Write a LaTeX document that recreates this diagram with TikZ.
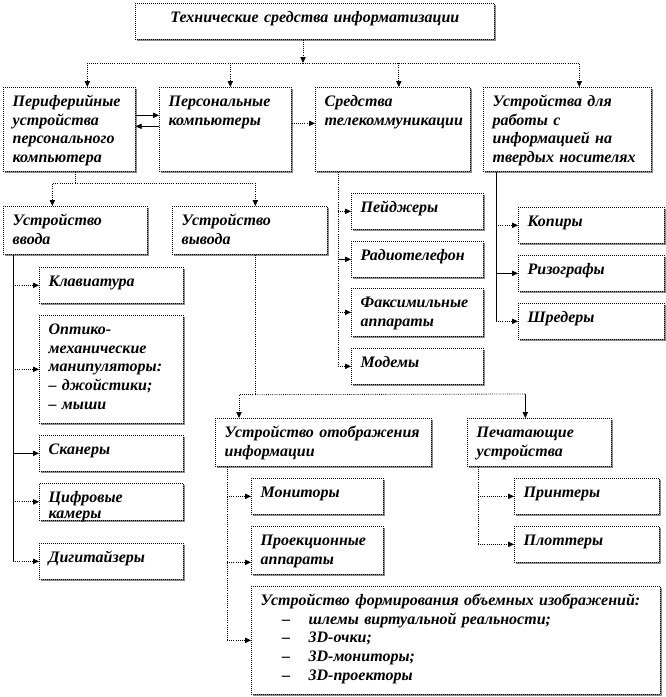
\documentclass[tikz,border=0pt]{standalone}
\usepackage{fontspec}
\setmainfont{Liberation Serif}
\usetikzlibrary{arrows.meta,positioning,calc,shadows}
\newcommand{\dashitem}[1]{\hspace*{16pt}\makebox[20pt][l]{--}#1}

\begin{document}
\begin{tikzpicture}[
      x=0.75pt,y=-0.75pt,
      box/.style={draw,line width=0.5pt,densely dotted,fill=white,anchor=north west,align=left,
        inner xsep=7pt,inner ysep=3pt,text height=11.25pt,
        font=\fontsize{12}{14}\selectfont\bfseries\itshape,
        drop shadow={shadow xshift=1pt,shadow yshift=-1pt,fill=black!45,opacity=1}},
      arrow/.style={-{Triangle[length=4.5pt,width=4pt]},line width=0.6pt},
      darrow/.style={arrow,densely dotted},
      dline/.style={line width=0.6pt,densely dotted}
    ]
      \useasboundingbox (0,0) rectangle (666,697);
      \node[box,align=center,text width=255.25pt,text depth=9.75pt] (title) at (135,3) {Технические средства информатизации};
      \node[box,text width=85pt,text depth=45.75pt] (periph) at (3,87) {Периферийные\\устройства\\персонального\\компьютера};
      \node[box,text width=85pt,text depth=45.75pt] (pc) at (159,87) {Персональные\\компьютеры};
      \node[box,text width=102.25pt,text depth=45.75pt] (tele) at (315,87) {Средства\\телекоммуникации};
      \node[box,text width=112pt,text depth=45.75pt] (hard) at (483,87) {Устройства для\\работы с\\информацией на\\твердых носителях};
      \node[box,text width=94pt,text depth=18.75pt] (vvod) at (3,206) {Устройство\\ввода};
      \node[box,text width=102.25pt,text depth=18.75pt] (vyvod) at (172,206) {Устройство\\вывода};
      \node[box,text width=94pt,text depth=9.75pt] (klav) at (39,267) {Клавиатура};
      \node[box,text width=94pt,text depth=63.75pt] (opto) at (39,315) {Оптико-\\механические\\манипуляторы:\\-- джойстики;\\-- мыши};
      \node[box,text width=94pt,text depth=9.75pt] (scan) at (39,435) {Сканеры};
      \node[box,text width=94pt,text depth=10.5pt,font=\fontsize{12}{12}\selectfont\bfseries\itshape] (cam) at (39,483) {Цифровые\\камеры};
      \node[box,text width=94pt,text depth=9.75pt] (digi) at (39,543) {Дигитайзеры};
      \node[box,text width=85pt,text depth=9.75pt] (pager) at (351,193) {Пейджеры};
      \node[box,text width=85pt,text depth=9.75pt] (radio) at (351,241) {Радиотелефон};
      \node[box,text width=85pt,text depth=18.75pt] (fax) at (351,288) {Факсимильные\\аппараты};
      \node[box,text width=85pt,text depth=9.75pt] (modem) at (351,348) {Модемы};
      \node[box,text width=95.5pt,text depth=9.75pt] (copy) at (518,207) {Копиры};
      \node[box,text width=95.5pt,text depth=9.75pt] (riso) at (518,255) {Ризографы};
      \node[box,text width=95.5pt,text depth=9.75pt] (shred) at (518,303) {Шредеры};
      \node[box,text width=148pt,text depth=18.75pt] (otobr) at (215,418) {Устройство отображения\\информации};
      \node[box,text width=94pt,text depth=18.75pt] (print) at (467,418) {Печатающие\\устройства};
      \node[box,text width=85pt,text depth=9.75pt] (mon) at (251,478) {Мониторы};
      \node[box,text width=85pt,text depth=18.75pt] (proj) at (251,526) {Проекционные\\аппараты};
      \node[box,text width=292.75pt,text depth=63.75pt] (form) at (251,586) {Устройство формирования объемных изображений:\\\dashitem{шлемы виртуальной реальности;}\\\dashitem{3D-очки;}\\\dashitem{3D-мониторы;}\\\dashitem{3D-проекторы}};
      \node[box,text width=94.75pt,text depth=9.75pt] (printer) at (514,478) {Принтеры};
      \node[box,text width=94.75pt,text depth=9.75pt] (plot) at (514,526) {Плоттеры};
      \coordinate (hub) at (303,63);
      \draw[darrow] (title.south -| hub) -- (hub);
      \draw[darrow] (hub) -| ($(periph.north)+(18,0)$);
      \draw[darrow] (hub) -| ($(pc.north)+(5,0)$);
      \draw[darrow] (hub) -| ($(tele.north)+(6,0)$);
      \draw[darrow] (hub) -| ($(hard.north)+(12,0)$);
      \draw[arrow] ($(periph.east)+(0,-14)$) -- ($(pc.west)+(0,-14)$);
      \draw[arrow] ($(pc.west)+(0,-3)$) -- ($(periph.east)+(0,-3)$);
      \draw[darrow] ($(pc.east)+(0,-6)$) -- ($(tele.west)+(0,-6)$);
      \coordinate (pfork) at ($(periph.south)+(6,12)$);
      \draw[dline] (periph.south -| pfork) -- (pfork);
      \draw[darrow] (pfork) -| ($(vvod.north)+(-23,0)$);
      \draw[darrow] (pfork) -| ($(vyvod.north)+(5.5,0)$);
      \coordinate (vvodtr) at ($(vvod.south west)+(10,0)$);
      \draw[line width=0.6pt] (vvodtr) -- (vvodtr |- digi.west);
      \foreach \n in {klav,opto,cam,digi} \draw[darrow] (vvodtr |- \n.west) -- (\n.west);
      \draw[arrow] (vvodtr |- scan.west) -- (scan.west);
      \coordinate (teletr) at ($(tele.south west)+(23,0)$);
      \draw[dline] (teletr) -- (teletr |- modem.west);
      \foreach \n in {pager,fax,modem} \draw[darrow] (teletr |- \n.west) -- (\n.west);
      \draw[arrow] (teletr |- radio.west) -- (radio.west);
      \coordinate (hardtr) at ($(hard.south west)+(13,0)$);
      \draw[line width=0.6pt] (hardtr) -- (hardtr |- shred.west);
      \foreach \n in {copy,shred} \draw[darrow] (hardtr |- \n.west) -- (\n.west);
      \draw[arrow] (hardtr |- riso.west) -- (riso.west);
      \coordinate (vfork) at ($(vyvod.south)+(5.5,140)$);
      \coordinate (prtop) at ($(print.north)+(-14,-24)$);
      \draw[dline] (vyvod.south -| vfork) -- (vfork);
      \draw[darrow] (vfork) -| ($(otobr.north west)+(24,0)$);
      \draw[dline] (vfork) -- (prtop);
      \draw[arrow] (prtop) -- (prtop |- print.north);
      \coordinate (otobrtr) at ($(otobr.south west)+(12,0)$);
      \draw[dline] (otobrtr) -- (otobrtr |- form.west);
      \foreach \n in {mon,form} \draw[darrow] (otobrtr |- \n.west) -- (\n.west);
      \draw[darrow] ([yshift=-9pt]proj.west -| otobrtr) -- ([yshift=-9pt]proj.west);
      \coordinate (printtr) at ($(print.south west)+(11,0)$);
      \draw[dline] (printtr) -- (printtr |- plot.west);
      \foreach \n in {printer,plot} \draw[darrow] (printtr |- \n.west) -- (\n.west);
    \end{tikzpicture}
\end{document}
